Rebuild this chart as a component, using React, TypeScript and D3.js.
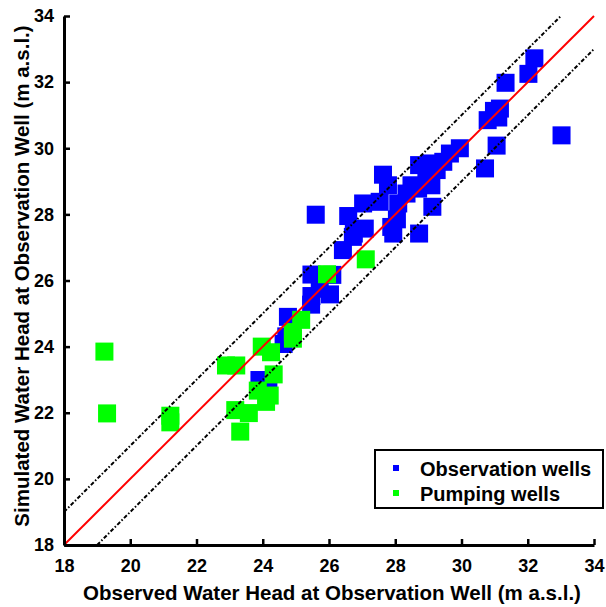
import React, { useEffect, useRef } from 'react';
import * as d3 from 'd3';

// observation wells (observed, simulated)
const obsX = [33.02, 32.2, 32.02, 31.33, 31.16, 30.98, 30.79, 31.11, 31.06, 30.71, 29.95, 29.65, 29.45, 29.25, 29.05, 28.72, 28.94, 29.09, 28.49, 28.69, 29.12, 28.72, 28.34, 28.09, 27.78, 27.63, 27.53, 27.03, 26.58, 25.6, 27.08, 26.75, 26.42, 27.88, 27.94, 28.05, 25.47, 26.1, 25.72, 25.47, 26.03, 25.46, 24.76, 24.71, 24.63, 23.9, 24.17, 26.72];
const obsY = [30.39, 32.72, 32.25, 31.98, 31.2, 31.13, 30.85, 30.93, 30.08, 29.39, 30.0, 29.84, 29.59, 29.34, 29.54, 29.49, 29.09, 28.88, 28.88, 28.78, 28.23, 27.42, 28.63, 28.33, 28.88, 29.2, 28.38, 28.33, 27.95, 27.99, 27.57, 27.42, 26.92, 27.62, 27.42, 27.85, 26.18, 26.17, 25.75, 25.53, 25.58, 25.27, 24.9, 24.31, 24.08, 22.99, 22.76, 27.32];

// pumping wells
const pumpX = [19.22, 19.3, 21.21, 21.21, 22.89, 23.2, 23.97, 24.25, 24.33, 23.85, 24.21, 24.1, 23.17, 23.58, 23.32, 24.91, 24.91, 25.16, 25.94, 27.11];
const pumpY = [23.85, 21.98, 21.91, 21.71, 23.43, 23.43, 24.0, 23.83, 23.16, 22.67, 22.52, 22.33, 22.08, 21.99, 21.43, 24.44, 24.24, 24.81, 26.19, 26.64];

const ticks = [18, 20, 22, 24, 26, 28, 30, 32, 34];
const legendLabels = ['Observation wells', 'Pumping wells'];
const seriesColors = ['#0000ff', '#00ff00'];

const W = 606;
const H = 607;
const FONT = '"Liberation Sans", Arial, sans-serif';

const App = () => {
    const svgRef = useRef<SVGSVGElement>(null);

    useEffect(() => {
        const svg = d3.select(svgRef.current);
        svg.selectAll('*').remove();

        const x = d3.scaleLinear().domain([18, 34]).range([64, 594]);
        const y = d3.scaleLinear().domain([18, 34]).range([545, 16]);
        const size = 18;

        const drawSeries = (xs: number[], ys: number[], color: string) => {
            svg.append('g')
                .selectAll('rect')
                .data(xs.map((v, i) => [v, ys[i]]))
                .enter()
                .append('rect')
                .attr('x', d => x(d[0]) - size / 2)
                .attr('y', d => y(d[1]) - size / 2)
                .attr('width', size)
                .attr('height', size)
                .attr('fill', color);
        };
        drawSeries(obsX, obsY, seriesColors[0]);
        drawSeries(pumpX, pumpY, seriesColors[1]);

        // 1:1 line and +-1 m bands
        const line = d3.line<number[]>().x(d => x(d[0])).y(d => y(d[1]));
        svg.append('path')
            .attr('d', line([[18, 19], [33, 34]]))
            .attr('stroke', '#000').attr('stroke-width', 2)
            .attr('stroke-dasharray', '4,2,1.5,2').attr('fill', 'none');
        svg.append('path')
            .attr('d', line([[19, 18], [34, 33]]))
            .attr('stroke', '#000').attr('stroke-width', 2)
            .attr('stroke-dasharray', '4,2,1.5,2').attr('fill', 'none');
        svg.append('path')
            .attr('d', line([[18, 18], [34, 34]]))
            .attr('stroke', '#ff0000').attr('stroke-width', 2).attr('fill', 'none');

        // axes
        const xAxis = d3.axisBottom(x).tickValues(ticks).tickSizeInner(-6).tickSizeOuter(0).tickPadding(14);
        const gx = svg.append('g').attr('transform', `translate(0, ${y(18)})`).call(xAxis);
        const yAxis = d3.axisLeft(y).tickValues(ticks).tickSizeInner(-6).tickSizeOuter(0).tickPadding(14);
        const gy = svg.append('g').attr('transform', `translate(${x(18)}, 0)`).call(yAxis);
        [gx, gy].forEach(g => {
            g.select('.domain').attr('stroke', '#000').attr('stroke-width', 3);
            g.selectAll('.tick line').attr('stroke', '#000').attr('stroke-width', 2.5);
            g.selectAll('.tick text')
                .attr('fill', '#000')
                .style('font-family', FONT)
                .style('font-weight', 'bold')
                .style('font-size', '18px');
        });
        gy.selectAll('.tick text').attr('dx', '4');

        svg.append('text')
            .attr('x', 332).attr('y', 600)
            .attr('text-anchor', 'middle')
            .style('font-family', FONT).style('font-weight', 'bold').style('font-size', '20.5px')
            .text('Observed Water Head at Observation Well (m a.s.l.)');
        svg.append('text')
            .attr('transform', 'translate(29, 276) rotate(-90)')
            .attr('text-anchor', 'middle')
            .style('font-family', FONT).style('font-weight', 'bold').style('font-size', '20.5px')
            .text('Simulated Water Head at Observation Well (m a.s.l.)');

        // legend
        const lg = svg.append('g');
        lg.append('rect')
            .attr('x', 375).attr('y', 450).attr('width', 228).attr('height', 58)
            .attr('fill', '#fff').attr('stroke', '#000').attr('stroke-width', 2);
        legendLabels.forEach((lab, i) => {
            lg.append('rect')
                .attr('x', 393).attr('y', 465 + i * 25).attr('width', 6).attr('height', 6)
                .attr('fill', seriesColors[i]);
            lg.append('text')
                .attr('x', 420).attr('y', 476 + i * 25)
                .style('font-family', FONT).style('font-weight', 'bold').style('font-size', '20px')
                .text(lab);
        });
    }, []);

    return (
        <svg ref={svgRef} width={W} height={H}
            style={{ position: 'absolute', left: 0, top: 0, background: '#fff' }} />
    );
};

export default App;
